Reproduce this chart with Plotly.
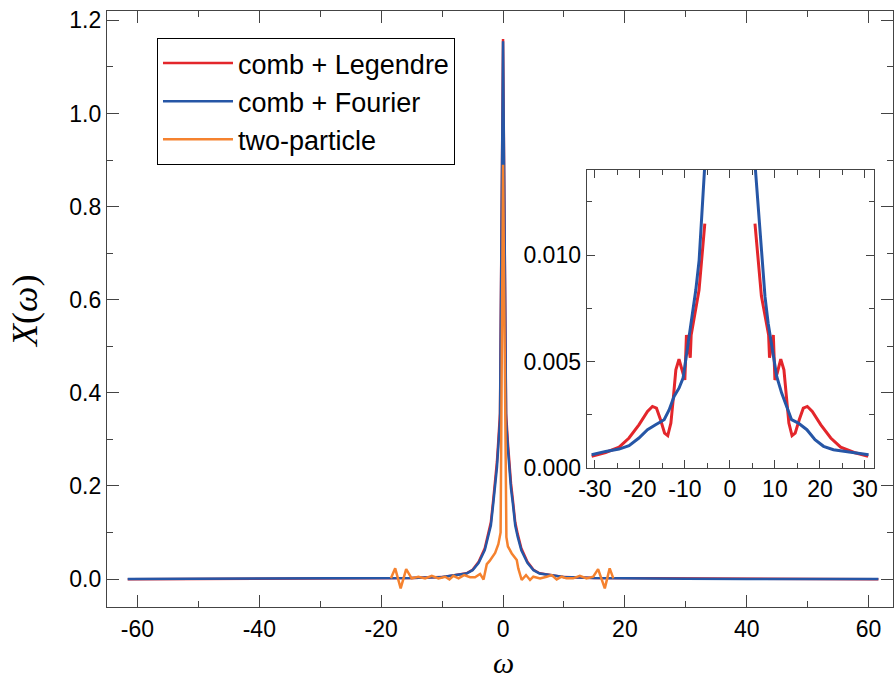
import plotly.graph_objects as go

# ---------------- data ----------------
omega_main = [-61.6, -50.0, -40.0, -30.0, -20.0, -15.0, -10.0, -8.0, -6.0, -5.0, -4.0,
              -3.0, -2.4, -2.0, -1.6, -1.3, -1.0, -0.8, -0.5, 0.0, 0.5, 0.8, 1.0, 1.3,
              1.6, 2.0, 2.4, 3.0, 4.0, 5.0, 6.0, 8.0, 10.0, 15.0, 20.0, 30.0, 40.0, 50.0, 61.6]
legendre_main = [-0.0005, -0.0002, 0.0001, 0.0006, 0.0020, 0.0022, 0.0042, 0.0076, 0.0125,
                 0.020, 0.037, 0.066, 0.097, 0.122, 0.171, 0.206, 0.252, 0.292, 0.356, 1.160,
                 0.356, 0.292, 0.252, 0.206, 0.171, 0.122, 0.097, 0.066, 0.037, 0.020, 0.0125,
                 0.0076, 0.0042, 0.0022, 0.0020, 0.0006, 0.0001, -0.0002, -0.0005]
fourier_main = [0.0002, 0.0003, 0.0004, 0.0007, 0.0014, 0.0022, 0.0045, 0.0075, 0.0120,
                0.019, 0.035, 0.062, 0.091, 0.115, 0.163, 0.195, 0.240, 0.280, 0.342, 1.155,
                0.342, 0.280, 0.240, 0.195, 0.163, 0.115, 0.091, 0.062, 0.035, 0.019, 0.0120,
                0.0075, 0.0045, 0.0022, 0.0014, 0.0007, 0.0004, 0.0003, 0.0002]

omega_two = [-18.4, -17.7, -16.8, -15.9, -15.0, -13.9, -12.8, -11.7, -10.6, -9.5, -8.8,
             -8.15, -7.3, -6.4, -5.4, -4.6, -3.77, -3.2, -2.67, -2.2, -1.3, -0.77, -0.4,
             0.0, 0.55, 0.8, 1.43, 2.25, 2.5, 3.06, 3.77, 4.43, 4.97, 6.07, 7.16, 7.98, 8.8,
             9.6, 10.4, 11.5, 12.6, 13.7, 14.8, 15.6, 16.7, 17.5, 18.1]
two_particle = [0.0015, 0.023, -0.020, 0.0215, 0.0015, 0.005, 0.0015, 0.007, 0.0015, 0.005,
                -0.001, 0.007, 0.0015, 0.0086, 0.004, 0.004, 0.011, -0.001, 0.032, 0.039,
                0.056, 0.075, 0.100, 0.890, 0.090, 0.070, 0.055, 0.041, 0.023, -0.002, 0.0086,
                -0.002, 0.005, 0.0015, 0.005, 0.0086, -0.001, 0.005, 0.0015, 0.0015, 0.007,
                0.0015, 0.005, 0.0215, -0.020, 0.023, 0.0015]

# inset (zoom on the tails)
omega_inset_legendre = [-30.7, -27.6, -24.6, -22.4, -20.2, -18.3, -17.2, -16.3, -15.4, -14.5,
                        -13.8, -13.1, -12.6, -12.0, -11.3, -10.5, -10.0, -9.65, -8.8, -8.6,
                        -7.0, -6.85, -5.57, None,
                        5.57, 6.85, 7.0, 8.6, 8.8, 9.65, 10.0, 10.5, 11.3, 12.0, 12.6, 13.1,
                        13.8, 14.5, 15.4, 16.3, 17.2, 18.3, 20.2, 22.4, 24.6, 27.6, 30.7]
legendre_inset = [0.00055, 0.00073, 0.00098, 0.00141, 0.00203, 0.00266, 0.00289, 0.00281,
                  0.00227, 0.00164, 0.00152, 0.00211, 0.00320, 0.00461, 0.00511, 0.00445,
                  0.00414, 0.00625, 0.00518, 0.00625, 0.00808, 0.00836, 0.01148, None,
                  0.01148, 0.00836, 0.00808, 0.00625, 0.00518, 0.00625, 0.00414, 0.00445,
                  0.00511, 0.00461, 0.00320, 0.00211, 0.00152, 0.00164, 0.00227, 0.00281,
                  0.00289, 0.00266, 0.00203, 0.00141, 0.00098, 0.00073, 0.00055]
omega_inset_fourier = [-30.7, -27.6, -24.6, -22.4, -20.2, -18.3, -16.5, -14.6, -13.5, -12.4,
                       -11.3, -10.4, -9.8, -9.06, -8.3, -7.57, -6.83, -6.24, -5.72, -5.5, None,
                       5.5, 5.8, 6.3, 7.05, 7.8, 8.5, 9.3, 10.4, 11.5, 12.6, 13.7, 15.2, 17.1,
                       18.9, 20.8, 23.0, 26.0, 30.8]
fourier_inset = [0.000625, 0.00078, 0.00089, 0.00105, 0.00141, 0.00180, 0.00203, 0.00227,
                 0.00273, 0.00336, 0.00375, 0.00422, 0.00508, 0.00617, 0.00742, 0.00836,
                 0.00977, 0.01164, 0.01367, 0.0145, None,
                 0.0145, 0.01367, 0.0121, 0.00992, 0.00805, 0.0068, 0.0057, 0.0043, 0.00352,
                 0.00289, 0.00227, 0.00211, 0.0018, 0.00133, 0.00102, 0.00086, 0.00078, 0.000625]

main_xticks = [-60, -40, -20, 0, 20, 40, 60]
main_xtick_labels = ["-60", "-40", "-20", "0", "20", "40", "60"]
main_yticks = [0.0, 0.2, 0.4, 0.6, 0.8, 1.0, 1.2]
main_ytick_labels = ["0.0", "0.2", "0.4", "0.6", "0.8", "1.0", "1.2"]
inset_xticks = [-30, -20, -10, 0, 10, 20, 30]
inset_xtick_labels = ["-30", "-20", "-10", "0", "10", "20", "30"]
inset_yticks = [0.000, 0.005, 0.010]
inset_ytick_labels = ["0.000", "0.005", "0.010"]

RED = "#e3262b"
BLUE = "#2656a6"
ORANGE = "#f5822f"
AX = "#444444"
FONT = "Liberation Sans, Arial, sans-serif"
SERIF = "Liberation Serif, Times New Roman, serif"

fig = go.Figure()
fig.add_trace(go.Scatter(x=omega_main, y=legendre_main, mode="lines", name="comb + Legendre",
                         line=dict(color=RED, width=2.5), legendgroup="a"))
fig.add_trace(go.Scatter(x=omega_main, y=fourier_main, mode="lines", name="comb + Fourier",
                         line=dict(color=BLUE, width=2.5), legendgroup="b"))
fig.add_trace(go.Scatter(x=omega_two, y=two_particle, mode="lines", name="two-particle",
                         line=dict(color=ORANGE, width=2.5), legendgroup="c"))
fig.add_trace(go.Scatter(x=omega_inset_legendre, y=legendre_inset, mode="lines",
                         line=dict(color=RED, width=3), showlegend=False,
                         xaxis="x2", yaxis="y2", connectgaps=False))
fig.add_trace(go.Scatter(x=omega_inset_fourier, y=fourier_inset, mode="lines",
                         line=dict(color=BLUE, width=3), showlegend=False,
                         xaxis="x2", yaxis="y2", connectgaps=False))

common = dict(showline=True, linecolor=AX, linewidth=1.2, mirror="allticks", ticks="inside",
              tickcolor=AX, tickwidth=1.2, showgrid=False, zeroline=False, automargin=False,
              tickmode="array",
              tickfont=dict(family=FONT, size=23, color="black"))

fig.update_layout(
    width=894, height=679,
    margin=dict(l=107, r=1, t=11, b=72),
    paper_bgcolor="white", plot_bgcolor="white",
    showlegend=True,
    legend=dict(x=0.0636, y=0.9547, xanchor="left", yanchor="top",
                bordercolor="black", borderwidth=1, bgcolor="white",
                font=dict(family=FONT, size=27, color="black"),
                tracegroupgap=0, itemwidth=70),
    xaxis=dict(range=[-65, 64], tickvals=main_xticks, ticktext=main_xtick_labels, ticklen=12,
               ticklabelstandoff=1,
               minor=dict(ticks="inside", ticklen=6, dtick=10, tickcolor=AX, tickwidth=1.2),
               **common),
    yaxis=dict(range=[-0.06, 1.22], tickvals=main_yticks, ticktext=main_ytick_labels, ticklen=12,
               minor=dict(ticks="inside", ticklen=6, dtick=0.1, tickcolor=AX, tickwidth=1.2),
               **common),
    xaxis2=dict(domain=[0.6103, 0.9758], anchor="y2", range=[-31.8, 32.0], tickvals=inset_xticks,
                ticktext=inset_xtick_labels, ticklen=8,
                minor=dict(ticks="inside", ticklen=5, dtick=5, tickcolor=AX, tickwidth=1.2),
                **common),
    yaxis2=dict(domain=[0.2332, 0.7332], anchor="x2", range=[0, 0.0140], tickvals=inset_yticks,
                ticktext=inset_ytick_labels, ticklen=8,
                minor=dict(ticks="inside", ticklen=5, dtick=0.0025, tickcolor=AX, tickwidth=1.2),
                **common),
    annotations=[
        dict(text="<i>ω</i>", xref="paper", yref="paper", x=0.505, y=-0.0925,
             xanchor="center", yanchor="middle", showarrow=False,
             font=dict(family=SERIF, size=30, color="black")),
        dict(text="<i>X</i>(<i>ω</i>)", xref="paper", yref="paper", x=-0.1043, y=0.495,
             xanchor="center", yanchor="middle", showarrow=False, textangle=-90,
             font=dict(family=SERIF, size=36, color="black")),
    ],
)

fig.write_html("out.html", post_script="document.body.style.margin='0';",
               config={"displayModeBar": False})
